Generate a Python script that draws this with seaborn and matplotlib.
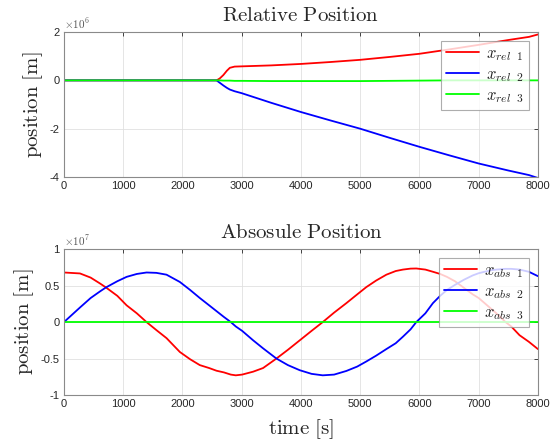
import numpy as np
import pandas as pd
import matplotlib
matplotlib.use('Agg')
import matplotlib.pyplot as plt
import seaborn as sns
from matplotlib.ticker import FuncFormatter

# ---- data (positions in units of 1e6 m / 1e7 m) ----
t_rel = [0, 1000, 2000, 2500, 2575, 2630, 2690, 2750, 2800, 2880, 3000, 3500, 4000, 4500,
         5000, 5500, 6000, 6500, 7000, 7500, 7850, 8000]
x_rel_1 = [0, 0, 0, 0, 0, 0.08, 0.22, 0.40, 0.52, 0.57, 0.58, 0.62, 0.68, 0.76,
           0.85, 0.97, 1.10, 1.28, 1.47, 1.67, 1.80, 1.90]
x_rel_2 = [0, 0, 0, 0, 0, -0.10, -0.21, -0.31, -0.38, -0.45, -0.53, -0.93, -1.31, -1.66,
           -2.00, -2.38, -2.75, -3.10, -3.44, -3.73, -3.92, -4.04]
x_rel_3 = [0, 0, 0, 0, 0, 0, -0.01, -0.01, -0.01, -0.02, -0.02, -0.03, -0.03, -0.03,
           -0.03, -0.02, -0.01, 0, 0, 0, 0, 0]

t_abs = [0, 270, 450, 607, 708, 900, 1057, 1230, 1394, 1560, 1731, 1956, 2130, 2293,
         2450, 2575, 2700, 2816, 2900, 3007, 3193, 3361, 3586, 3780, 3980, 4180, 4368,
         4560, 4767, 4950, 5104, 5270, 5442, 5600, 5722, 5850, 5947, 6100, 6228, 6350,
         6464, 6600, 6750, 6900, 7000, 7200, 7300, 7454, 7550, 7690, 7847, 8000]
x_abs_1 = [0.68, 0.667, 0.61, 0.53, 0.475, 0.36, 0.23, 0.12, 0.0, -0.11, -0.22, -0.41,
           -0.51, -0.59, -0.63, -0.667, -0.69, -0.72, -0.73, -0.72, -0.68, -0.63, -0.50,
           -0.38, -0.25, -0.12, 0.0, 0.13, 0.26, 0.38, 0.48, 0.57, 0.65, 0.70, 0.72, 0.733,
           0.735, 0.72, 0.69, 0.66, 0.62, 0.56, 0.47, 0.38, 0.33, 0.19, 0.12, 0.0, -0.06,
           -0.18, -0.27, -0.37]
x_abs_2 = [0.0, 0.20, 0.33, 0.42, 0.475, 0.56, 0.62, 0.66, 0.68, 0.675, 0.65, 0.55,
           0.44, 0.33, 0.23, 0.15, 0.07, 0.0, -0.06, -0.12, -0.25, -0.36, -0.50, -0.59,
           -0.66, -0.71, -0.73, -0.72, -0.67, -0.61, -0.54, -0.46, -0.37, -0.29, -0.20,
           -0.10, 0.0, 0.12, 0.26, 0.36, 0.44, 0.51, 0.58, 0.64, 0.67, 0.71, 0.72, 0.73,
           0.73, 0.72, 0.69, 0.63]
x_abs_3 = [0.0] * len(t_abs)

# ---- style ----
sns.set_style('white')
plt.rcParams['font.family'] = ['Liberation Sans', 'DejaVu Sans']
plt.rcParams['mathtext.fontset'] = 'cm'
plt.rcParams['axes.unicode_minus'] = False

cols = ['#ff0000', '#0000ff', '#00ff00']
tick_col = '#262626'


def fmt(v, pos):
    return '%g' % v


def style_ax(ax, ylim, yticks, expo, title, ylab_x):
    ax.set_xlim(0, 8000)
    ax.set_ylim(*ylim)
    ax.set_xticks(np.arange(0, 8001, 1000))
    ax.set_yticks(yticks)
    ax.yaxis.set_major_formatter(FuncFormatter(fmt))
    ax.grid(True, color='#e0e0e0', linewidth=0.6)
    ax.tick_params(direction='in', length=3, width=0.6, colors=tick_col, labelsize=8,
                   top=True, right=True, pad=3)
    for s in ax.spines.values():
        s.set_color('#8a8a8a')
        s.set_linewidth(0.8)
    ax.set_title(r'$\mathrm{' + title.replace(' ', r'\ ') + '}$', fontsize=15, pad=8)
    ax.set_ylabel(r'$\mathrm{position\ [m]}$', fontsize=15)
    ax.yaxis.set_label_coords(ylab_x, 0.5)
    ax.text(0.0, 1.01, r'$\times 10^{%d}$' % expo, transform=ax.transAxes,
            fontsize=8, color='#555555', ha='left', va='bottom')
    leg = ax.legend(loc='upper right', fontsize=12, frameon=True, fancybox=False,
                    handlelength=2.0, borderpad=0.3, labelspacing=0.25,
                    handletextpad=0.4, borderaxespad=0.55)
    leg.get_frame().set_edgecolor('#999999')
    leg.get_frame().set_linewidth(0.8)


fig = plt.figure(figsize=(5.53, 4.42), dpi=100)
ax1 = fig.add_axes([0.1157, 0.5995, 0.857, 0.328])
ax2 = fig.add_axes([0.1157, 0.1063, 0.857, 0.330])

rel_labels = [r'$x_{rel\ \ 1}$', r'$x_{rel\ \ 2}$', r'$x_{rel\ \ 3}$']
for vals, c, lab in zip([x_rel_1, x_rel_2, x_rel_3], cols, rel_labels):
    sns.lineplot(x=t_rel, y=vals, color=c, linewidth=1.3, label=lab, ax=ax1)

abs_labels = [r'$x_{abs\ \ 1}$', r'$x_{abs\ \ 2}$', r'$x_{abs\ \ 3}$']
for vals, c, lab in zip([x_abs_1, x_abs_2, x_abs_3], cols, abs_labels):
    sns.lineplot(x=t_abs, y=vals, color=c, linewidth=1.3, label=lab, ax=ax2)

style_ax(ax1, (-4, 2), [-4, -2, 0, 2], 6, 'Relative Position', -0.040)
style_ax(ax2, (-1, 1), [-1, -0.5, 0, 0.5, 1], 7, 'Absosule Position', -0.059)
ax2.set_xlabel(r'$\mathrm{time\ [s]}$', fontsize=15, labelpad=6)

fig.savefig('out.png', dpi=100)
